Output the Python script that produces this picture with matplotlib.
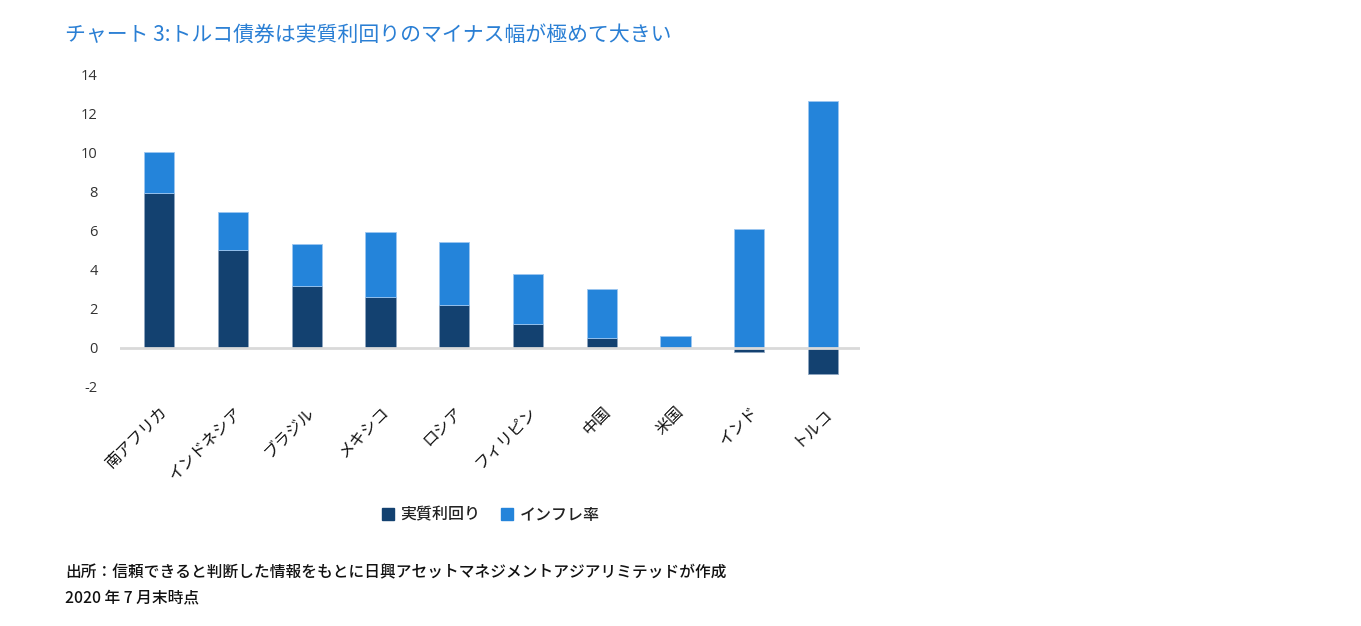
import numpy as np
import matplotlib.pyplot as plt
from matplotlib.lines import Line2D

plt.rcParams['font.family'] = ['Noto Sans CJK JP', 'DejaVu Sans']

countries = ["南アフリカ", "インドネシア", "ブラジル", "メキシコ", "ロシア",
             "フィリピン", "中国", "米国", "インド", "トルコ"]
real_yield = [7.95, 5.0, 3.2, 2.6, 2.2, 1.25, 0.5, 0.0, -0.2, -1.35]
inflation = [2.1, 1.95, 2.15, 3.35, 3.25, 2.55, 2.55, 0.6, 6.1, 12.65]
yticks = [-2, 0, 2, 4, 6, 8, 10, 12, 14]

dark = "#134170"
blue = "#2484DA"

fig = plt.figure(figsize=(13.61, 6.26), dpi=100)
ax = fig.add_axes([0.0882, 0.3818, 0.5437, 0.4984])

x = np.arange(len(countries))
real = np.array(real_yield)
infl = np.array(inflation)
# positive parts stack upward from zero, negative parts go below
infl_bottom = np.where(real > 0, real, 0)
ax.bar(x, real, width=0.41, color=dark, edgecolor="#8fa6c0", linewidth=0.6, zorder=2)
ax.bar(x, infl, bottom=infl_bottom, width=0.41, color=blue,
       edgecolor="#9cc6f0", linewidth=0.6, zorder=2)

ax.axhline(0, color="#d9d9d9", linewidth=2, zorder=3)

ax.set_xlim(-0.53, 9.5)
ax.set_ylim(-2, 14)
ax.set_yticks(yticks)
ax.set_yticklabels([str(v) for v in yticks], family=['Open Sans', 'DejaVu Sans'],
                   fontsize=10.5, color="#333333")
ax.set_xticks(x)
ax.set_xticklabels(countries, rotation=45, ha="right", rotation_mode="anchor",
                   fontsize=11.5, color="#111111")
ax.tick_params(axis="both", length=0)
ax.tick_params(axis="y", pad=16)
ax.tick_params(axis="x", pad=12)
for s in ax.spines.values():
    s.set_visible(False)

handles = [Line2D([], [], marker="s", linestyle="none", markersize=8, color=dark),
           Line2D([], [], marker="s", linestyle="none", markersize=8, color=blue)]
fig.legend(handles, ["実質利回り", "インフレ率"], loc="center", bbox_to_anchor=(0.357, 0.177),
           ncol=2, frameon=False, handletextpad=-0.2, columnspacing=0.7,
           labelcolor="#222222", prop={'size': 11.5, 'weight': 'medium'})

fig.text(0.048, 0.944, "チャート 3:トルコ債券は実質利回りのマイナス幅が極めて大きい",
         fontsize=15, color="#2A7FD4", va="center")
fig.text(0.048, 0.085, "出所：信頼できると判断した情報をもとに日興アセットマネジメントアジアリミテッドが作成",
         fontsize=11.3, color="#111111", va="center", weight="medium")
fig.text(0.048, 0.045, "2020 年 7 月末時点", fontsize=11.3, color="#111111", va="center",
         weight="medium")

fig.savefig("out.png", dpi=100)
